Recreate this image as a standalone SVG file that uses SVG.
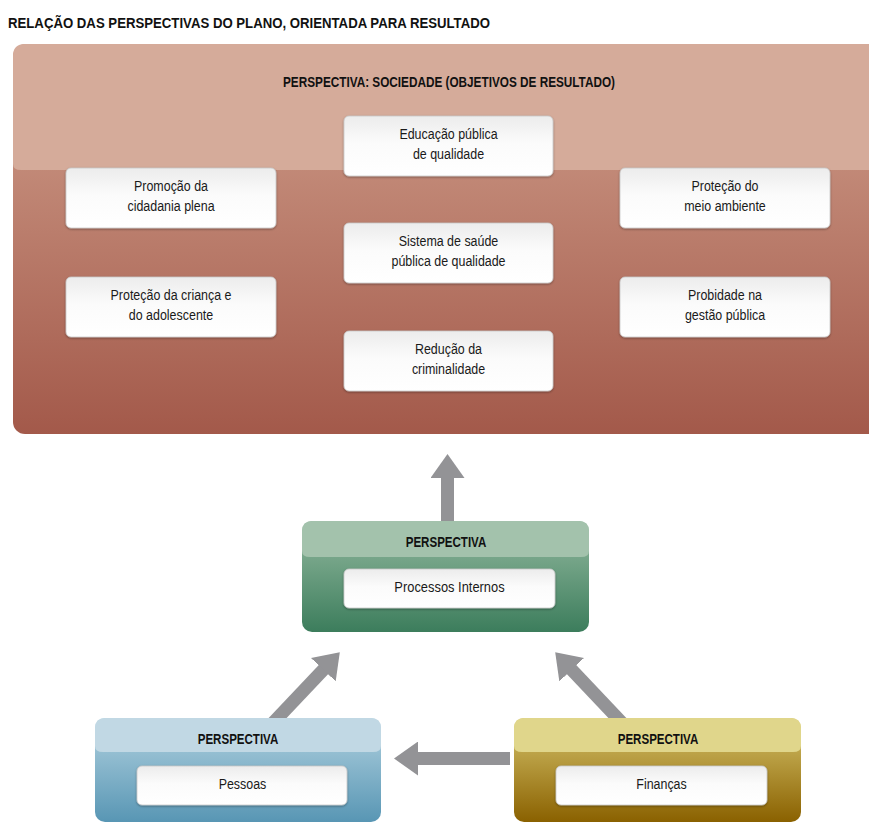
<svg xmlns="http://www.w3.org/2000/svg" width="869" height="823" viewBox="0 0 869 823">
<defs>
<linearGradient id="gSoc" x1="0" y1="0" x2="0" y2="1">
<stop offset="0" stop-color="#d09f8c"/>
<stop offset="1" stop-color="#a3594a"/>
</linearGradient>
<linearGradient id="gGreen" x1="0" y1="0" x2="0" y2="1">
<stop offset="0" stop-color="#93b99f"/>
<stop offset="1" stop-color="#3c7d5c"/>
</linearGradient>
<linearGradient id="gBlue" x1="0" y1="0" x2="0" y2="1">
<stop offset="0" stop-color="#b2d2e0"/>
<stop offset="1" stop-color="#5896b4"/>
</linearGradient>
<linearGradient id="gGold" x1="0" y1="0" x2="0" y2="1">
<stop offset="0" stop-color="#d6c46c"/>
<stop offset="1" stop-color="#8a6100"/>
</linearGradient>
<linearGradient id="gWhite" x1="0" y1="0" x2="0" y2="1">
<stop offset="0" stop-color="#ececec"/>
<stop offset="0.45" stop-color="#fbfbfb"/>
<stop offset="1" stop-color="#ffffff"/>
</linearGradient>
<filter id="sh" x="-10%" y="-20%" width="120%" height="150%">
<feDropShadow dx="0" dy="1" stdDeviation="1" flood-color="#000" flood-opacity="0.35"/>
</filter>
<marker id="ah" viewBox="0 0 24 34" markerWidth="24" markerHeight="34" refX="1" refY="17" orient="auto" markerUnits="userSpaceOnUse">
<path d="M0,0 L24,17 L0,34 Z" fill="#939396"/>
</marker>
</defs>
<style>
.t{font-family:"Liberation Sans",Arial,sans-serif;font-size:15px;fill:#1a1a1a;text-anchor:middle}
.b{font-family:"Liberation Sans",Arial,sans-serif;font-size:15px;font-weight:bold;fill:#111;text-anchor:middle}
.box{fill:url(#gWhite);stroke:#c8c8c8;stroke-width:0.8;filter:url(#sh)}
.conn{stroke:#939396;stroke-width:13;fill:none;marker-end:url(#ah)}
</style>
<rect width="869" height="823" fill="#ffffff"/>
<text x="8" y="28" style="font-family:'Liberation Sans',Arial,sans-serif;font-size:14px;font-weight:bold;fill:#111" textLength="482" lengthAdjust="spacingAndGlyphs">RELAÇÃO DAS PERSPECTIVAS DO PLANO, ORIENTADA PARA RESULTADO</text>

<g id="connectors">
<line class="conn" x1="447.5" y1="525" x2="447.5" y2="477"/>
<line class="conn" x1="271" y1="725" x2="324" y2="669"/>
<line class="conn" x1="624" y1="725" x2="571" y2="669"/>
<line class="conn" x1="510" y1="758.5" x2="417" y2="758.5"/>
</g>

<g id="sociedade">
<rect x="13" y="44" width="880" height="390" rx="12" fill="url(#gSoc)"/>
<path d="M13,164 L13,56 Q13,44 25,44 L869,44 L869,170 L21,170 Q13,170 13,164 Z" fill="#d5ab9a"/>
<text class="b" x="449" y="87" textLength="332" lengthAdjust="spacingAndGlyphs">PERSPECTIVA: SOCIEDADE (OBJETIVOS DE RESULTADO)</text>
</g>

<g id="educacao">
<rect class="box" x="344" y="116" width="209" height="60" rx="5"/>
<text class="t" transform="translate(448.5 139) scale(0.83 1)">Educação pública</text>
<text class="t" transform="translate(448.5 159) scale(0.83 1)">de qualidade</text>
</g>
<g id="cidadania">
<rect class="box" x="66" y="168" width="210" height="60" rx="5"/>
<text class="t" transform="translate(171 191) scale(0.83 1)">Promoção da</text>
<text class="t" transform="translate(171 211) scale(0.83 1)">cidadania plena</text>
</g>
<g id="ambiente">
<rect class="box" x="620" y="168" width="210" height="60" rx="5"/>
<text class="t" transform="translate(725 191) scale(0.83 1)">Proteção do</text>
<text class="t" transform="translate(725 211) scale(0.83 1)">meio ambiente</text>
</g>
<g id="saude">
<rect class="box" x="344" y="223" width="209" height="60" rx="5"/>
<text class="t" transform="translate(448.5 246) scale(0.83 1)">Sistema de saúde</text>
<text class="t" transform="translate(448.5 266) scale(0.83 1)">pública de qualidade</text>
</g>
<g id="crianca">
<rect class="box" x="66" y="277" width="210" height="60" rx="5"/>
<text class="t" transform="translate(171 300) scale(0.83 1)">Proteção da criança e</text>
<text class="t" transform="translate(171 320) scale(0.83 1)">do adolescente</text>
</g>
<g id="probidade">
<rect class="box" x="620" y="277" width="210" height="60" rx="5"/>
<text class="t" transform="translate(725 300) scale(0.83 1)">Probidade na</text>
<text class="t" transform="translate(725 320) scale(0.83 1)">gestão pública</text>
</g>
<g id="criminalidade">
<rect class="box" x="344" y="331" width="209" height="60" rx="5"/>
<text class="t" transform="translate(448.5 354) scale(0.83 1)">Redução da</text>
<text class="t" transform="translate(448.5 374) scale(0.83 1)">criminalidade</text>
</g>

<g id="processos">
<rect x="302" y="521" width="287" height="111" rx="10" fill="url(#gGreen)"/>
<path d="M302,551 L302,531 Q302,521 312,521 L579,521 Q589,521 589,531 L589,551 Q589,557 581,557 L310,557 Q302,557 302,551 Z" fill="#a3c2ac"/>
<text class="b" transform="translate(446 547) scale(0.77 1)">PERSPECTIVA</text>
<rect class="box" x="344" y="569" width="211" height="39" rx="5"/>
<text class="t" transform="translate(449.5 592) scale(0.86 1)">Processos Internos</text>
</g>

<g id="pessoas">
<rect x="95" y="718" width="286" height="104" rx="10" fill="url(#gBlue)"/>
<path d="M95,746 L95,728 Q95,718 105,718 L371,718 Q381,718 381,728 L381,746 Q381,752 373,752 L103,752 Q95,752 95,746 Z" fill="#c1d8e4"/>
<text class="b" transform="translate(238 744) scale(0.77 1)">PERSPECTIVA</text>
<rect class="box" x="137" y="766" width="210" height="39" rx="5"/>
<text class="t" transform="translate(242.5 789) scale(0.83 1)">Pessoas</text>
</g>

<g id="financas">
<rect x="514" y="718" width="287" height="104" rx="10" fill="url(#gGold)"/>
<path d="M514,746 L514,728 Q514,718 524,718 L791,718 Q801,718 801,728 L801,746 Q801,752 793,752 L522,752 Q514,752 514,746 Z" fill="#e0d68b"/>
<text class="b" transform="translate(658 744) scale(0.77 1)">PERSPECTIVA</text>
<rect class="box" x="556" y="766" width="211" height="39" rx="5"/>
<text class="t" transform="translate(661.5 789) scale(0.83 1)">Finanças</text>
</g>
</svg>
